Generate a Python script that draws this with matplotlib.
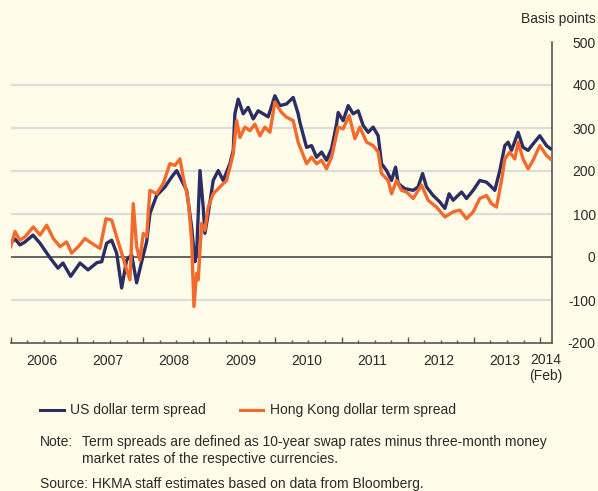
import matplotlib.pyplot as plt
from matplotlib.ticker import MultipleLocator
from matplotlib.lines import Line2D

plt.rcParams['font.family'] = ['Liberation Sans', 'DejaVu Sans']
plt.rcParams['axes.unicode_minus'] = False

BG = '#FFFCE9'
NAVY = '#2B2D63'
ORANGE = '#F26A2C'
TEXT = '#2a2a2a'

# decimal years, basis points
us_dates = [2006.00, 2006.065, 2006.14, 2006.216, 2006.337, 2006.443, 2006.595, 2006.715, 2006.79, 2006.906,
            2007.047, 2007.168, 2007.304, 2007.375, 2007.45, 2007.526, 2007.601, 2007.677, 2007.752, 2007.828,
            2007.903, 2007.979, 2008.054, 2008.104, 2008.205, 2008.331, 2008.432, 2008.508, 2008.583, 2008.659,
            2008.734, 2008.784, 2008.81, 2008.86, 2008.909, 2008.935, 2008.985, 2009.06, 2009.136, 2009.211,
            2009.313, 2009.363, 2009.388, 2009.438, 2009.514, 2009.589, 2009.665, 2009.74, 2009.816, 2009.891,
            2009.992, 2010.068, 2010.169, 2010.269, 2010.344, 2010.37, 2010.471, 2010.547, 2010.622, 2010.698,
            2010.773, 2010.849, 2010.924, 2010.949, 2011.024, 2011.10, 2011.175, 2011.251, 2011.326, 2011.402,
            2011.477, 2011.553, 2011.604, 2011.68, 2011.755, 2011.816, 2011.855, 2011.956, 2012.082, 2012.157,
            2012.224, 2012.284, 2012.384, 2012.485, 2012.561, 2012.625, 2012.686, 2012.813, 2012.888, 2012.988,
            2013.089, 2013.19, 2013.266, 2013.316, 2013.391, 2013.467, 2013.517, 2013.568, 2013.668, 2013.743,
            2013.819, 2013.894, 2013.995, 2014.097, 2014.157]
us_values = [32, 42, 28, 35, 51, 32, -2, -26, -14, -45,
             -14, -30, -13, -11, 32, 39, 9, -72, -7, 5,
             -60, -11, 35, 101, 143, 163, 186, 201, 178, 155,
             70, -11, 9, 201, 116, 55, 101, 178, 201, 178,
             217, 248, 333, 367, 333, 348, 321, 340, 333, 326,
             375, 352, 356, 371, 333, 313, 255, 259, 232, 244,
             225, 252, 309, 336, 317, 352, 333, 340, 306, 290,
             302, 282, 217, 201, 178, 209, 171, 159, 155, 163,
             194, 163, 143, 128, 113, 147, 132, 151, 136, 155,
             178, 174, 163, 155, 201, 259, 267, 248, 290, 255,
             248, 263, 282, 259, 252]

hk_dates = [2006.00, 2006.065, 2006.14, 2006.216, 2006.341, 2006.443, 2006.544, 2006.644, 2006.745, 2006.846,
            2006.921, 2007.021, 2007.122, 2007.224, 2007.349, 2007.44, 2007.526, 2007.601, 2007.677, 2007.752,
            2007.802, 2007.852, 2007.903, 2007.953, 2008.003, 2008.054, 2008.104, 2008.205, 2008.305, 2008.406,
            2008.482, 2008.557, 2008.607, 2008.683, 2008.734, 2008.769, 2008.81, 2008.834, 2008.885, 2008.935,
            2008.985, 2009.06, 2009.162, 2009.263, 2009.363, 2009.414, 2009.464, 2009.539, 2009.615, 2009.69,
            2009.766, 2009.841, 2009.917, 2009.992, 2010.094, 2010.169, 2010.269, 2010.344, 2010.471, 2010.547,
            2010.622, 2010.698, 2010.773, 2010.849, 2010.949, 2011.024, 2011.115, 2011.201, 2011.276, 2011.378,
            2011.477, 2011.553, 2011.604, 2011.704, 2011.755, 2011.831, 2011.906, 2011.982, 2012.082, 2012.208,
            2012.308, 2012.435, 2012.561, 2012.686, 2012.787, 2012.888, 2012.988, 2013.089, 2013.19, 2013.266,
            2013.341, 2013.417, 2013.467, 2013.542, 2013.618, 2013.668, 2013.743, 2013.819, 2013.894, 2013.995,
            2014.097, 2014.157]
hk_values = [24, 59, 39, 47, 70, 51, 74, 43, 24, 35,
             9, 24, 43, 32, 20, 89, 86, 47, 9, -30,
             -53, 124, 24, -7, 55, 47, 155, 147, 171, 217,
             213, 228, 186, 132, 39, -115, -38, -53, 78, 62,
             116, 147, 163, 178, 240, 317, 278, 302, 294, 309,
             282, 302, 290, 360, 336, 325, 317, 267, 217, 232,
             217, 225, 205, 232, 302, 298, 329, 275, 302, 267,
             259, 244, 194, 178, 147, 178, 155, 151, 136, 167,
             132, 116, 93, 105, 109, 89, 105, 136, 143, 124,
             116, 178, 228, 244, 228, 267, 228, 205, 225, 259,
             236, 228]

years = [2006, 2007, 2008, 2009, 2010, 2011, 2012, 2013, 2014]
year_labels = ['2006', '2007', '2008', '2009', '2010', '2011', '2012', '2013']
y_ticks = [-200, -100, 0, 100, 200, 300, 400, 500]
grid_levels = [-100, 100, 200, 300, 400]

W, H = 598, 491
fig = plt.figure(figsize=(W / 100, H / 100), dpi=100, facecolor=BG)
ax = fig.add_axes([10.7 / W, (H - 343) / H, (552 - 10.7) / W, 301 / H])
ax.set_facecolor(BG)

for g in grid_levels:
    ax.axhline(g, color='#DCDCD8', lw=1.6, zorder=1)
ax.axhline(0, color='#3a3a3a', lw=1.1, zorder=2)

ax.plot(us_dates, us_values, color=NAVY, lw=2.4, zorder=3, label='US dollar term spread')
ax.plot(hk_dates, hk_values, color=ORANGE, lw=2.4, zorder=4, label='Hong Kong dollar term spread')

ax.set_xlim(2006, 2014.18)
ax.set_ylim(-200, 500)

for s in ['top', 'left']:
    ax.spines[s].set_visible(False)
for s in ['right', 'bottom']:
    ax.spines[s].set_color('#555555')
    ax.spines[s].set_linewidth(1.2)

ax.yaxis.tick_right()
ax.set_yticks(y_ticks)
ax.tick_params(axis='y', length=0, pad=31.5, labelsize=10, labelcolor=TEXT)
for lbl in ax.get_yticklabels():
    lbl.set_ha('right')

ax.set_xticks(years)
ax.xaxis.set_minor_locator(MultipleLocator(0.25))
ax.tick_params(axis='x', which='major', direction='in', length=4.5, width=1, color='#555555', labelbottom=False)
ax.tick_params(axis='x', which='minor', direction='in', length=2.5, width=1, color='#555555')

for yr, lab in zip(years, year_labels):
    ax.annotate(lab, xy=(yr + 0.47, 0), xycoords=('data', 'axes fraction'),
                xytext=(0, -13), textcoords='offset points', ha='center', va='center',
                fontsize=10, color=TEXT)
ax.annotate('2014\n(Feb)', xy=(2014.09, 0), xycoords=('data', 'axes fraction'),
            xytext=(0, -7), textcoords='offset points', ha='center', va='top',
            fontsize=10, color=TEXT, linespacing=1.2)

fig.text(596 / W, 1 - 19 / H, 'Basis points', ha='right', va='center', fontsize=10, color=TEXT)

# legend drawn by hand to sit where the reference has it
ly = 1 - 410 / H
fig.add_artist(Line2D([40 / W, 64 / W], [ly, ly], color=NAVY, lw=2.2, transform=fig.transFigure))
fig.text(70 / W, ly, 'US dollar term spread', va='center', fontsize=10, color=TEXT)
fig.add_artist(Line2D([240 / W, 263 / W], [ly, ly], color=ORANGE, lw=2.2, transform=fig.transFigure))
fig.text(270 / W, ly, 'Hong Kong dollar term spread', va='center', fontsize=10, color=TEXT)

fig.text(40 / W, 1 - 442 / H, 'Note:', va='center', fontsize=10, color=TEXT)
fig.text(82 / W, 1 - 442 / H, 'Term spreads are defined as 10-year swap rates minus three-month money',
         va='center', fontsize=10, color=TEXT)
fig.text(82 / W, 1 - 459 / H, 'market rates of the respective currencies.', va='center', fontsize=10, color=TEXT)
fig.text(40 / W, 1 - 484 / H, 'Source: HKMA staff estimates based on data from Bloomberg.',
         va='center', fontsize=10, color=TEXT)

fig.savefig('out.png', dpi=100, facecolor=BG)
